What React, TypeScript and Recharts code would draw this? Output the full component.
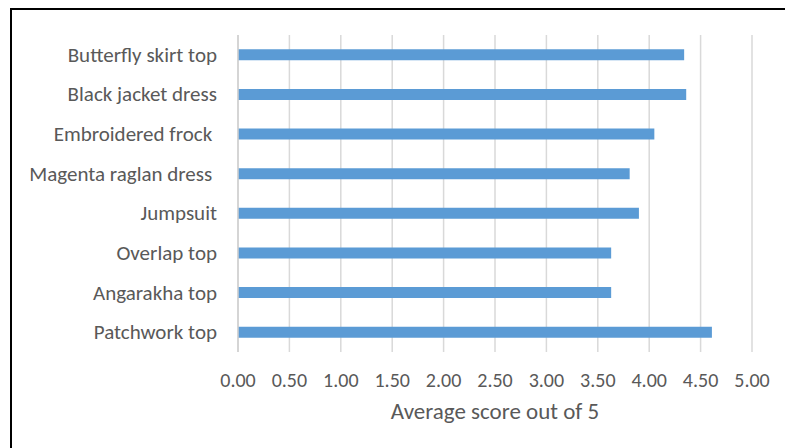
import { BarChart, Bar, XAxis, YAxis, CartesianGrid } from "recharts";

const garments = [
  "Butterfly skirt top",
  "Black jacket dress",
  "Embroidered frock ",
  "Magenta raglan dress ",
  "Jumpsuit",
  "Overlap top",
  "Angarakha top",
  "Patchwork top",
];
const scores = [4.34, 4.36, 4.05, 3.81, 3.9, 3.63, 3.63, 4.61];
const scoreTicks = [0, 0.5, 1, 1.5, 2, 2.5, 3, 3.5, 4, 4.5, 5];

const data = garments.map((name, i) => ({ name, score: scores[i] }));

const FONT = "Carlito, Calibri, 'Liberation Sans', sans-serif";
const TEXT = "#595959";

function GarmentTick({ x, y, payload }: any) {
  return (
    <text
      x={x - 13}
      y={y}
      dy={7}
      textAnchor="end"
      fontFamily={FONT}
      fontSize={21}
      fill={TEXT}
      style={{ whiteSpace: "pre" }}
    >
      {payload.value}
    </text>
  );
}

function ScoreTick({ x, y, payload }: any) {
  return (
    <text x={x} y={y + 20} dy={7} textAnchor="middle" fontFamily={FONT} fontSize={20} fill={TEXT}>
      {Number(payload.value).toFixed(2)}
    </text>
  );
}

export default function App() {
  return (
    <div
      style={{
        position: "fixed",
        left: 0,
        top: 0,
        width: 785,
        height: 448,
        overflow: "hidden",
        background: "#fff",
      }}
    >
      <div
        style={{
          position: "absolute",
          left: 10,
          top: 8,
          width: 800,
          height: 460,
          borderTop: "2px solid #000",
          borderLeft: "2px solid #000",
        }}
      />
      <div style={{ position: "absolute", left: 0, top: 0 }}>
        <BarChart
          width={785}
          height={448}
          data={data}
          layout="vertical"
          margin={{ top: 35, right: 33, left: 0, bottom: 0 }}
          barCategoryGap="64%"
        >
          <CartesianGrid horizontal={false} stroke="#d9d9d9" strokeWidth={1.5} />
          <XAxis
            type="number"
            domain={[0, 5]}
            ticks={scoreTicks}
            interval={0}
            height={96}
            axisLine={false}
            tickLine={false}
            tick={<ScoreTick />}
            label={{
              value: "Average score out of 5",
              position: "insideTop",
              offset: 51,
              fontFamily: FONT,
              fontSize: 23,
              fill: TEXT,
            }}
          />
          <YAxis
            type="category"
            dataKey="name"
            width={238}
            axisLine={{ stroke: "#d0d0d0", strokeWidth: 1.5 }}
            tickLine={false}
            tick={<GarmentTick />}
            interval={0}
          />
          <Bar dataKey="score" fill="#5b9bd5" isAnimationActive={false} />
        </BarChart>
      </div>
    </div>
  );
}
